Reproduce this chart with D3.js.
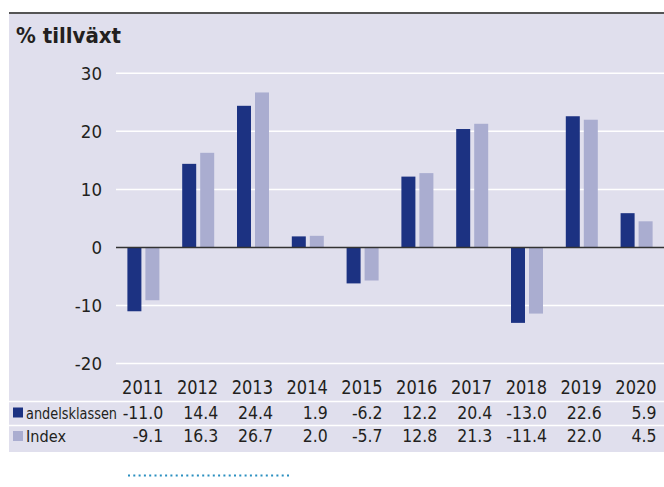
<!DOCTYPE html>
<html>
<head>
<meta charset="utf-8">
<script src="https://cdn.jsdelivr.net/npm/d3@7"></script>
<style>
  body { margin: 0; background: #fff; }
  svg { display: block; }
</style>
</head>
<body>
<svg id="chart" width="664" height="487"></svg>
<script>
const years = ['2011', '2012', '2013', '2014', '2015', '2016', '2017', '2018', '2019', '2020'];
const andelsklassen = [-11.0, 14.4, 24.4, 1.9, -6.2, 12.2, 20.4, -13.0, 22.6, 5.9];
const index = [-9.1, 16.3, 26.7, 2.0, -5.7, 12.8, 21.3, -11.4, 22.0, 4.5];
const yTicks = [-20, -10, 0, 10, 20, 30];
const seriesNames = ['andelsklassen', 'Index'];
const colors = ['#1c3282', '#aaadd0'];

const font = '"DejaVu Sans Condensed", "DejaVu Sans", sans-serif';
const ink = '#231f20';
const svg = d3.select('#chart');

// bakgrund
svg.append('rect')
  .attr('x', 9).attr('y', 13)
  .attr('width', 655).attr('height', 439)
  .attr('fill', '#e0dfed');
svg.append('line')
  .attr('x1', 9).attr('x2', 664).attr('y1', 13).attr('y2', 13)
  .attr('stroke', '#555').attr('stroke-width', 2);

svg.append('text')
  .attr('x', 16).attr('y', 43)
  .attr('font-family', font).attr('font-weight', 'bold')
  .attr('font-size', 22).attr('fill', ink)
  .text('% tillväxt');

const x = d3.scaleBand()
  .domain(years)
  .range([116, 664]);

const y = d3.scaleLinear()
  .domain([-20, 30])
  .range([363.5, 73.3]);

// rutnät
svg.append('g').selectAll('line')
  .data(yTicks.filter(d => d !== 0))
  .enter().append('line')
  .attr('x1', 116).attr('x2', 664)
  .attr('y1', d => y(d)).attr('y2', d => y(d))
  .attr('stroke', '#fff').attr('stroke-width', 1.5);

svg.append('g').selectAll('text')
  .data(yTicks)
  .enter().append('text')
  .attr('x', 102).attr('y', d => y(d))
  .attr('dy', '0.36em')
  .attr('text-anchor', 'end')
  .attr('font-family', font).attr('font-size', 18.5)
  .attr('fill', ink)
  .text(d => d);

const series = [andelsklassen, index];
const barW = 14, gap = 4;

series.forEach((vals, s) => {
  svg.append('g').selectAll('rect')
    .data(vals)
    .enter().append('rect')
    .attr('x', (d, i) => x(years[i]) + x.bandwidth() / 2 - barW - gap / 2 + s * (barW + gap))
    .attr('width', barW)
    .attr('y', d => y(Math.max(0, d)))
    .attr('height', d => Math.abs(y(d) - y(0)))
    .attr('fill', colors[s]);
});

// nollinje
svg.append('line')
  .attr('x1', 116).attr('x2', 664)
  .attr('y1', y(0)).attr('y2', y(0))
  .attr('stroke', '#333').attr('stroke-width', 1.5);

// tabell
const colRight = d => x(d) + x.bandwidth() / 2 + 20;

svg.append('g').selectAll('text')
  .data(years)
  .enter().append('text')
  .attr('transform', d => `translate(${colRight(d)},394) scale(0.95,1)`)
  .attr('text-anchor', 'end')
  .attr('font-family', font).attr('font-size', 19)
  .attr('fill', ink)
  .text(d => d);

[401.5, 425.5].forEach(yy => {
  svg.append('line')
    .attr('x1', 9).attr('x2', 664)
    .attr('y1', yy).attr('y2', yy)
    .attr('stroke', '#fff').attr('stroke-width', 1.5);
});

const rowY = [418.5, 442];
const labelW = [91, 40];
series.forEach((vals, s) => {
  svg.append('rect')
    .attr('x', 13).attr('y', rowY[s] - 11)
    .attr('width', 10).attr('height', 10)
    .attr('fill', colors[s]);
  svg.append('text')
    .attr('x', 26).attr('y', rowY[s])
    .attr('font-family', font).attr('font-size', 15.5)
    .attr('textLength', labelW[s]).attr('lengthAdjust', 'spacingAndGlyphs')
    .attr('fill', ink)
    .text(seriesNames[s]);
  svg.append('g').selectAll('text')
    .data(vals)
    .enter().append('text')
    .attr('x', (d, i) => colRight(years[i])).attr('y', rowY[s])
    .attr('text-anchor', 'end')
    .attr('font-family', font).attr('font-size', 17.5)
    .attr('fill', ink)
    .text(d => d.toFixed(1));
});

// prickad linje
svg.append('line')
  .attr('x1', 128).attr('x2', 289)
  .attr('y1', 475.5).attr('y2', 475.5)
  .attr('stroke', '#2a8fc0').attr('stroke-width', 2)
  .attr('stroke-dasharray', '2 3.3');
</script>
</body>
</html>
